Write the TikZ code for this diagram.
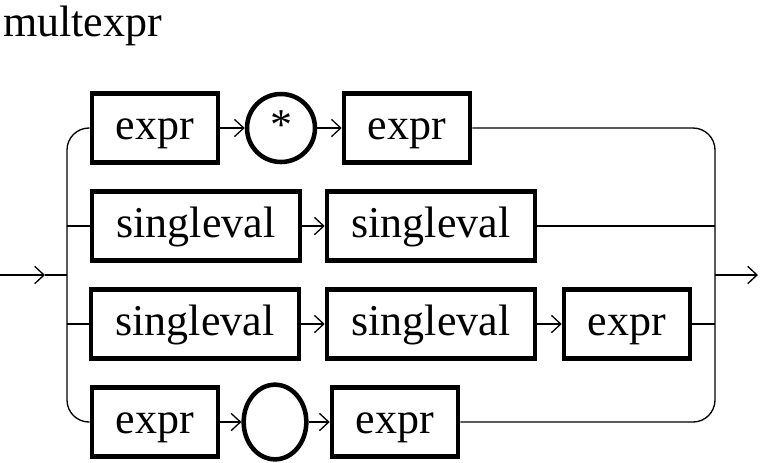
\documentclass[tikz,border=0pt]{standalone}
\usepackage{fontspec}
\setmainfont{Liberation Serif}
\usetikzlibrary{arrows.meta,shapes.geometric}

\tikzset{
  rail/.style={line width=1pt},
  railarrow/.style={rail,-{Straight Barb[length=7pt,width=13pt]}},
  term/.style={draw,line width=3.4pt,inner sep=0pt,minimum height=51.75pt,
    text height=24.75pt,text depth=7.5pt,font=\fontsize{33}{40}\selectfont},
  exprbox/.style={term,rectangle,minimum width=94.5pt},
  valbox/.style={term,rectangle,minimum width=156pt},
  litcirc/.style={term,circle,minimum size=51pt},
  litoval/.style={term,ellipse,minimum width=47pt,minimum height=56pt},
}

\begin{document}
\begin{tikzpicture}[x=0.75pt,y=0.75pt,yscale=-1,xscale=1]
    \useasboundingbox (0,0) rectangle (760,462);

    % Text Node
    \node [anchor=base west,inner sep=0pt,font=\fontsize{33}{40}\selectfont] (title) at (3,36) {multexpr};

    % Rows
    \node [exprbox] (e1) at (155,128) {expr};
    \node [litcirc] (star) at (281,128) {*};
    \node [exprbox] (e2) at (407,128) {expr};

    \node [valbox] (s1) at (196,226) {singleval};
    \node [valbox] (s2) at (431,226) {singleval};

    \node [valbox] (s3) at (195,324) {singleval};
    \node [valbox] (s4) at (431,324) {singleval};
    \node [exprbox] (e3) at (627,324) {expr};

    \node [exprbox] (e4) at (155,422) {expr};
    \node [litoval] (oval) at (275,422) {};
    \node [exprbox] (e5) at (395,422) {expr};

    % Bus points
    \coordinate (in) at (0,275);
    \coordinate (inmid) at (45,275);
    \coordinate (lbus) at (67,275);
    \coordinate (rbus) at (715,275);
    \coordinate (out) at (758,275);

    % Entry and exit
    \draw [railarrow] (in) -- (inmid);
    \draw [rail] (inmid) -- (lbus);
    \draw [railarrow] (rbus) -- (out);

    % Left and right buses
    \draw [rail,rounded corners=16.5pt] (e1.west) -| (lbus) |- (e4.west);
    \draw [rail,rounded corners=16.5pt] (e2.east) -| (rbus) |- (e5.east);
    \draw [rail] (lbus |- s1) -- (s1.west);
    \draw [rail] (lbus |- s3) -- (s3.west);
    \draw [rail] (s2.east) -- (rbus |- s2);
    \draw [rail] (e3.east) -- (rbus |- e3);

    % Sequence arrows
    \draw [railarrow] (e1) -- (star);
    \draw [railarrow] (star) -- (e2);
    \draw [railarrow] (s1) -- (s2);
    \draw [railarrow] (s3) -- (s4);
    \draw [railarrow] (s4) -- (e3);
    \draw [railarrow] (e4) -- (oval);
    \draw [railarrow] (oval) -- (e5);

\end{tikzpicture}
\end{document}
